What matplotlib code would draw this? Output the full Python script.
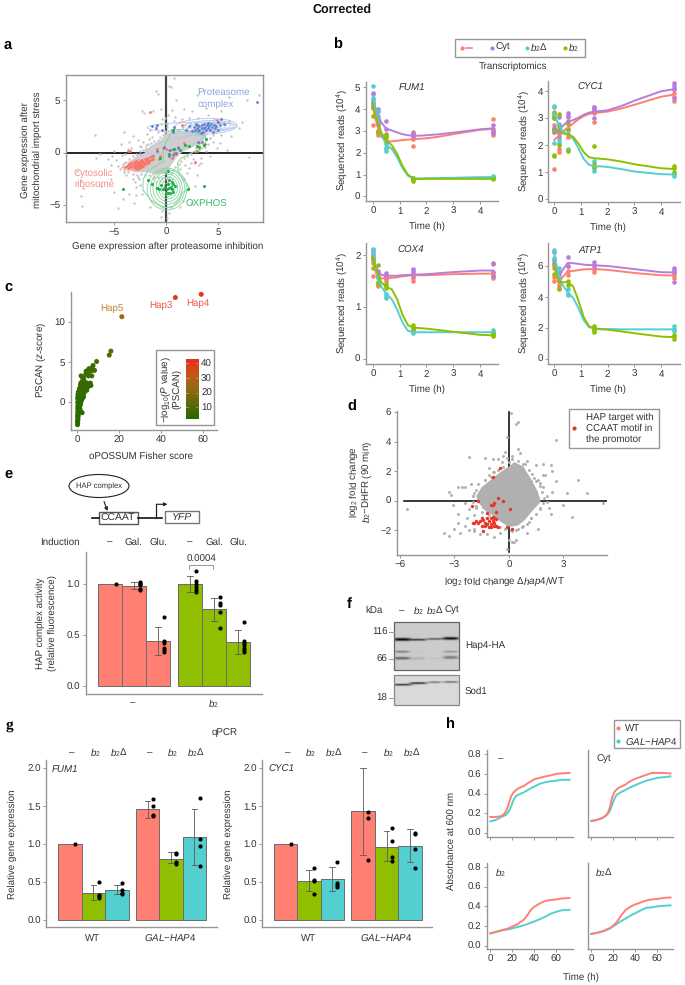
import numpy as np
import matplotlib
matplotlib.use('Agg')
import matplotlib.pyplot as plt
from matplotlib.patches import Ellipse, Rectangle
from matplotlib.colors import LinearSegmentedColormap

plt.rcParams['font.family'] = ['Liberation Sans', 'DejaVu Sans']
plt.rcParams['font.size'] = 7
plt.rcParams['text.hinting'] = 'no_hinting'
plt.rcParams['mathtext.fontset'] = 'custom'
plt.rcParams['mathtext.rm'] = 'Liberation Sans'
plt.rcParams['mathtext.it'] = 'Liberation Sans:italic'
plt.rcParams['mathtext.bf'] = 'Liberation Sans:bold'

W, H = 685, 985
RED, CYT, DEL, B2 = '#ff8073', '#b57edc', '#54cfd0', '#8fbf00'
AXC, TXT = '#969696', '#333333'
B2TXT = r'$\mathit{b_2}$'
B2D = r'$\mathit{b_2}\Delta$'

# panel a
a_grey_x = [.8, .3, -1, -.8, .5, 3, 7.7, 8.9, 6, 1, -.5, -2.1, -2.3, -1.2, .6, 1.7, 2.5, 3.8, 5.3, -.1, .2, -.4, .8, 1.5,
            2.2, 3.1, 4, 4.6, 6, 7.3, 7, 6.2, 5.3, 4.8, 4.5, 5.2, 5.8, 7.9, 4.2, 3.3, 3.2, 2.2, 2.8, 1.8, -4, -3.2, -6.8,
            -2.7, -3.5, -2.2, -1.8, -1, -1.5, -.5, -4.3, -3.6, -5, -5.2, -6.3, -6.7, -4.2, -4.8, -5.5, -5.3, -4.6, -4,
            -4.4, -3.8, -3.2, -2.7, -8.5, -8.1, -8.1, -7.9, -8, -6.2, -5.3, -5, -4.1, -4.6, -3.5, -3.1, -2.9, -2.5, -2.3,
            -2.9, -1.5, -.4, -.5, .3, .1, .5, 1.3, 1.6, 2.4, 2.8, 3, 1.7, 2, 1.3, 3.8, 3.5, -2.4, -2, -1.3, -.8, 2.6, 3.3,
            -3.9, -3.3, 4.2, 4.9, 5.6, -2.6, -3, -1.1, 1.3, .9, .1, .1, -.1, .1, -.1, .1, 2.4, 1.9, 2.9,
            -3.5, -3.2, -2.8, -2.5, -2.2, -1.9, -1.7, -1.4, -1.1, -.8, -.6, -.3, -.1, .2, .5, .8, 1.2, 1.6, 2, 2.4, 2.8,
            4.2, 4, 3.7, 3.2, 2.8, 2.4, 2, 1.7, 1.4, 1.2, .9, .7, .5, .3, 0, -.4, -.8, -1.2, -1.6, -2, -2.4, -2.8, -3.2,
            -3.6, -4, -4.2, -4.1, -3.9, -.6, -1, .6, 4.5, 4.7, -2.9, -2.5, -1.6, -1.9, 1.8, 2.3]
a_grey_y = [7.1, 6.4, 5.9, 5.6, 6.3, 5.5, 5, 5.5, 5.3, 5, 4.2, 3.8, 4, 4, 4.1, 4.2, 4, 4.3, 4, 3.3, 3.6, 3.2, 3, 3.2,
            3.3, 3.3, 3.6, 3.2, 3, 2.9, 2.3, 1.6, 1.7, 2, 1, .9, .2, -.4, -.3, -.5, -1.2, -1.5, -1, -1.2, 2, 1.6, 1.7,
            1.2, 1, 1, 1.8, 2.5, 2.2, 2.7, .8, .3, .1, -.3, -.1, -.5, -.2, -.7, -.6, -1.2, -1.3, -1.9, -1.6, -2.2, -2.5,
            -2.3, -1.8, -2.6, -4.2, -3.4, -5.1, -3.2, -2.5, -3.8, -4.5, -5.3, -4, -4.8, -3.3, -3.1, -4, -4.1, -5.2, -5.6,
            -6.2, -5.8, -6.3, -5.2, -5.2, -4.6, -4.8, -3.2, -2.2, -2.5, -2, -1.6, .1, .8, .5, .2, 1.5, 2, -.6, -1,
            -.1, .4, 1.4, .4, 2.7, -2.5, -2.8, -2.3, 2.9, 3.4, 2.7, 2.4, 2.1, -1.7, -1.9, -1.4, -1, 1.6, .4,
            -.6, -.3, -.2, .1, .2, .4, .8, .9, 1.1, 1.2, 1.5, 1.7, 2, 2.1, 2.2, 2.3, 2.2, 2.4, 2.3, 2.5, 2.6,
            1.4, .8, .5, .2, .1, -.1, -.3, -.5, -.8, -1.1, -1.4, -1.7, -2, -2.3, -2.4, -2.4, -2.3, -2.4, -2.2, -2.2, -2.1, -2.2, -2.1,
            -1.9, -1.7, -1.4, -1.1, -.9, -2.7, -2.8, -2.5, 1.7, 2.6, -.1, .6, 1.3, .7, 2.6, 2.8]
a_core_x = [-3.8, -3, -2, -1.5, -.5, 0, 1, 2, 3.3, 4, 3.5, 2.5, 1.5, 1, .5, 0, -1, -1.8, -3, -3.8]
a_core_y = [-1.2, -.5, 0, .6, 1.2, 1.8, 2, 2, 2.4, 1.8, 1, .5, 0, -.5, -1.2, -2, -2.1, -1.9, -1.9, -1.5]
a_red_x = [-3.9, -3.7, -3.6, -3.5, -3.4, -3.3, -3.3, -3.2, -3.1, -3.1, -3, -3, -2.9, -2.9, -2.8, -2.8, -2.7, -2.7, -2.6,
           -2.6, -2.5, -2.5, -2.4, -2.4, -2.3, -2.3, -2.2, -2.2, -2.1, -2, -2, -1.9, -1.8, -1.8, -1.7, -1.6, -1.5, -1.4,
           -1.3, -1.2, -1.5, 1.1, 1.5, -3.6, -3.4, -.9, -.3, 0, .3, .8, 1, 1.7, 3.2, 3.7, 3, 4.9, 2.8, .6, -.6, -.7, -1.2]
a_red_y = [-1.4, -1.3, -1.5, -1.1, -1.3, -1, -1.4, -1.2, -.9, -1.4, -1.1, -1.5, -.8, -1.3, -1.1, -1.6, -.9, -1.3, -1.1,
           -1.5, -.8, -1.2, -1, -1.4, -.7, -1.2, -.9, -1.3, -1, -.6, -1.1, -.8, -.5, -1, -.7, -.9, -.4, -.7, -.3, -.6,
           3.9, .5, 2.6, .1, .1, .3, .4, .3, .2, 0, -.1, .9, .9, .8, .1, 3.1, -.9, -.5, -.3, -.6, -.3]
a_blue_x = [1.9, 2.2, 2.5, 2.7, 2.8, 3, 3, 3.2, 3.2, 3.4, 3.4, 3.5, 3.6, 3.6, 3.7, 3.8, 3.9, 4, 4, 4.1, 4.2, 4.3, 4.4, 4.5,
            4.6, 4.7, 4.8, 5, 5, 5.2, 5.3, 5.5, 3.1, 2.9, 3.3, -1.3, -1, -.9, -.4, .8, .7, 1.1, .7, .4, -.2, -.9, -2.5,
            3.1, 3.4, 8.7, 1, .7, .3]
a_blue_y = [2.2, 2.5, 2.1, 2.4, 2.2, 2.6, 2.3, 2.2, 2.5, 2.3, 2.6, 2, 2.3, 2.7, 2.4, 2.2, 2.6, 2.8, 2.3, 2.5, 2.2, 2.7,
            2.4, 2, 2.6, 2.3, 2.5, 2.2, 2.9, 2.6, 3.2, 2.7, 2.1, 2.7, 1.9, 2.5, 2.3, 2.6, 2.2, 2.4, 2, .4, .3, .2, .5,
            .1, 0, 1, 1, 4.8, 0, -.2, -.3]
a_green_x = [-4.1, 3.6, 2.1, .2, .6, .3, .2, .3, .5, .6, -.1, -.3, -.5, -.7, -.9, -1.3, -1.7, 0, .1, .9, .7, .7, .4, .2,
             1.3, .8, 1.8, 2.2, 3, 3.2, 3.6, 3.8, -.6, .3, .7]
a_green_y = [-3.5, -3.2, -3.5, -1.8, -2.8, -2.6, -3, -3.4, -3.3, -3.5, -3.3, -3.5, -3.1, -3.5, -3.4, -3, -2.6, -3.9, -3.5,
             -3.2, -3, -3.8, -3.9, -3.9, .2, .3, .7, .6, .6, .5, .7, 1.3, -.5, -.1, 2.2]
a_ox_outer_x = [.6, .3, 0, -.3, -.2, -.8, -1.7, -2.2, -2.2, -1.4, -.3, .6, 1.3, 1.6, 2.3, 1.8, 1.2, 1.1, 1.5, 2.5, 3.5,
                3.9, 3.7, 2.5, 1.5, .6]
a_ox_outer_y = [2.2, 1.5, 1, 0, -.8, -1.2, -1.7, -2.6, -3.6, -4.6, -5.3, -5.2, -4.5, -3.8, -3.5, -2.7, -2, -1, -.5, 0,
                .4, 1.2, 1.6, 2, 2.2, 2.2]
# contour ellipses: centre x, centre y, full width, full height, angle
a_blue_cont = [(2.5, 2.45, 8.6, .9, 1), (3.8, 2.5, 6, 1.5, 2), (4, 2.5, 5, 1.1, 2), (4.2, 2.5, 4, .85, 2),
               (4.3, 2.5, 3, .6, 2), (4.3, 2.5, 2, .4, 2), (.8, .75, 5.6, 1.1, 15)]
a_red_cont = [(-2.8, -1.2, 2.6, 1, 10), (-2.7, -1.2, 2, .7, 10), (-2.7, -1.2, 1.4, .45, 10)]
a_green_cont = [(.2, -3.4, .8, 1, 0), (.2, -3.4, 1.3, 1.6, 0), (.2, -3.4, 1.8, 2.1, 0), (.2, -3.4, 2.3, 2.6, 0),
                (.15, -3.4, 2.8, 3.1, 0), (.15, -3.45, 3.3, 3.6, 0), (.1, -3.5, 3.8, 4, 0)]

# panel b
b_t = [0, .08, .17, .3, .5, .7, .9, 1.1, 1.3, 1.5, 1.75, 2, 2.5, 3, 4, 4.5]
fum1_lines = [[4.1, 3.6, 3.2, 2.75, 2.5, 2.52, 2.55, 2.58, 2.6, 2.62, 2.64, 2.66, 2.74, 2.85, 3.05, 3.1],
              [4.4, 4.1, 3.8, 3.4, 3.1, 3.02, 2.93, 2.85, 2.8, 2.78, 2.78, 2.8, 2.85, 2.92, 3.07, 3.12],
              [4.6, 4.1, 3.6, 2.9, 2.35, 2.18, 1.8, 1.3, .95, .83, .82, .83, .84, .85, .88, .88],
              [4.15, 3.8, 3.4, 2.95, 2.55, 2.35, 1.95, 1.4, 1, .8, .79, .8, .8, .8, .8, .8]]
cyc1_lines = [[2.2, 2.27, 2.35, 2.5, 2.65, 2.8, 2.96, 3.08, 3.16, 3.2, 3.22, 3.25, 3.36, 3.5, 3.8, 3.88],
              [2.6, 2.55, 2.55, 2.7, 2.88, 2.93, 3.02, 3.13, 3.21, 3.25, 3.27, 3.3, 3.45, 3.65, 4, 4.08],
              [3.2, 2.95, 2.75, 2.55, 2.4, 2.25, 1.9, 1.5, 1.28, 1.22, 1.22, 1.2, 1.12, 1.03, .93, .92],
              [2.55, 2.53, 2.5, 2.45, 2.4, 2.32, 2.07, 1.75, 1.56, 1.52, 1.5, 1.48, 1.4, 1.3, 1.15, 1.12]]
cox4_lines = [[1.9, 1.7, 1.58, 1.55, 1.55, 1.56, 1.57, 1.59, 1.6, 1.61, 1.61, 1.61, 1.62, 1.63, 1.64, 1.64],
              [2, 1.82, 1.7, 1.62, 1.6, 1.6, 1.6, 1.61, 1.615, 1.62, 1.625, 1.63, 1.65, 1.67, 1.7, 1.7],
              [2.1, 1.8, 1.6, 1.4, 1.25, 1.15, .95, .7, .54, .51, .51, .51, .51, .51, .51, .51],
              [1.95, 1.78, 1.65, 1.48, 1.38, 1.34, 1.15, .85, .65, .6, .59, .58, .55, .52, .46, .45]]
atp1_lines = [[6.1, 5.4, 4.9, 5.25, 5.65, 5.68, 5.73, 5.78, 5.8, 5.8, 5.78, 5.75, 5.65, 5.55, 5.4, 5.38],
              [6.3, 5.7, 5.3, 5.7, 6.2, 6.18, 6.14, 6.09, 6.06, 6.05, 6.02, 6, 5.9, 5.8, 5.6, 5.58],
              [6.9, 6.1, 5.4, 4.8, 4.3, 3.95, 3.3, 2.5, 2.05, 1.95, 1.93, 1.92, 1.9, 1.9, 1.9, 1.9],
              [6.1, 5.5, 5, 4.95, 4.95, 4.7, 3.8, 2.7, 2.1, 1.95, 1.9, 1.88, 1.77, 1.65, 1.43, 1.4]]
pts_t = [0, .17, .5, 1.5, 4.5]
fum1_pts = [[[3.25, 4.05, 4.1], [2.8, 3, 3.3], [2.6, 2.2, 2.85], [2.3, 2.65, 2.8, 2.95], [2.8, 2.95, 3.1, 3.55]],
            [[4.4, 4.7, 4.75], [3.3, 3.9, 4], [3.45, 3.1], [2.7, 2.8, 2.9], [2.9, 3.05, 3.25]],
            [[5.05, 4.5, 4.3, 4.2], [3.9, 3.7, 3.5], [2.1, 2.2, 2.4], [.8, .85, .82], [.85, .9, .95]],
            [[3.7, 4.1, 4.3], [2.9, 3, 3.3], [2.7, 2.5, 2.8], [.7, .8, .85], [.78, .82, .85]]]
cyc1_pts = [[[1.13, 2.5, 2.75, 3.25, 3.1], [1.75, 1.85, 2.4], [2.3, 2.4, 3.05], [2.85, 3.2, 3.3, 3.4], [3.65, 3.8, 3.95, 4.1]],
            [[2.5, 2.6, 2.65], [2.3, 2.5, 3.05], [2.9, 3.1, 3.2], [3, 3.25, 3.35, 3.42], [3.75, 4.1, 4.2, 4.3]],
            [[2.1, 3, 3.1, 3.4, 3.45], [2.1, 2.2, 2.6, 2.8], [1.82, 1.85, 2.55], [1.05, 1.15, 1.4], [.88, .92]],
            [[1.6, 1.65, 2.55, 3, 3.2], [2, 2.7, 3.15], [1.8, 2.6, 2.8], [1.2, 1.3, 1.98], [1, 1.15, 1.25]]]
cox4_pts = [[[1.6, 1.85, 2], [1.4, 1.45, 1.6], [1.5, 1.55, 1.6], [1.5, 1.55, 1.65], [1.55, 1.6, 1.65, 1.83]],
            [[1.95, 2.05], [1.65, 1.7], [1.55, 1.62, 1.66], [1.6, 1.7, 1.73], [1.6, 1.68, 1.85]],
            [[2, 2.1, 2.12], [1.55, 1.6], [1.17, 1.2, 1.25], [.5, .52, .55], [.48, .52, .55]],
            [[1.75, 1.9, 1.95], [1.45, 1.48, 1.8], [1.36, 1.4, 1.44], [.55, .6, .65], [.43, .46, .49]]]
atp1_pts = [[[5, 5.3, 5.9], [4.5, 4.8, 5], [5.4, 5.7, 6], [5.6, 5.8, 5.9], [5.2, 5.4, 5.6]],
            [[6.2, 6.4, 6.9], [5.2, 5.6], [6, 6.6], [5.9, 6.05, 6.25], [4.95, 5.6, 5.9, 5.75]],
            [[6.5, 7.05], [5.4, 5.9], [4.1, 4.2, 4.5], [1.85, 1.95, 2.05], [1.8, 2.1, 1.9]],
            [[5.5, 6.05], [4.6, 5], [4.8, 5.05], [1.7, 1.9, 2.1], [1.3, 1.45, 1.55]]]

# panel c
c_x = [.1, .2, .1, .3, .2, .4, .1, .5, .2, .6, 2.3, 1.5, .3, .8, 1.2, .2, .7, 1.1, .3, 1.5, .5, .9, .2, 1.3, 1.8, .5, .8, 1.2,
       2, .3, .7, 1.5, 2.5, .2, .9, 1.8, 3, .5, 1.2, 2.2, .3, 1.6, 2.8, .9, 3.3, .5, 1.9, 2.5, 1.3, 3.5, 4.5, 1, 2, 3, 4, 5,
       1.5, 2.5, 6.5, 1.5, 3, 5.5, 6.2, 1.7, 3.8, 4.7, 2.3, 3.2, 1.8, 2.5, 3, 5.3, 6.9, 4, 5.2, 6.2, 4.2, 7.3, 8.2, 5.5, 7,
       7.5, 9.2, 15.2, 16, 21.2, 46.7, 59]
c_y = [-2.8, -2.6, -2.4, -2.2, -2, -1.8, -1.7, -1.5, -1.3, -1.2, -1.3, -1.1, -1, -.9, -.8, -.7, -.6, -.5, -.4, -.3, -.2, -.1, 0,
       0, .1, .1, .2, .3, .3, .4, .4, .5, .5, .6, .6, .7, .7, .8, .9, .9, 1, 1.1, 1.1, 1.2, 1.2, 1.3, 1.4, 1.4, 1.5, 1.5, 1.5,
       1.7, 1.7, 1.7, 1.8, 1.9, 1.9, 2, 2.1, 2.2, 2.2, 2.3, 2.4, 2.4, 2.4, 2.4, 2.6, 2.7, 3.3, 3.1, 3, 3.3, 3.3, 3.5, 3.7, 3.9,
       3.9, 4, 4, 4.2, 4.3, 4.6, 5.1, 5.9, 6.4, 10.7, 13.1, 13.5]
c_p = [3] * 38 + [5] * 30 + [7] * 15 + [11, 12, 25, 41, 41]

# panel d
d_grey_x = [.1, .5, .4, -.1, 2.6, -2.2, -1.3, -.9, -.6, -.4, -.3, -.2, .2, .5, .6, .8, 1, 1.5, 1.9, 2.3, 2.4, 2, 2.6, 3.8,
            3.2, 2.4, 1.9, 1.7, 2.1, 4.3, 5.2, 3, 2.2, 1.7, 2.3, 3.5, 1.2, 1, 1.6, .5, .2, 0, -.5, -.8, -1.2, -1.6, -1.9,
            -2.2, -2.7, -2.8, -3, -3.3, -3.6, -5.6, -2.4, -2.1, -2.6, -2, -2.4, -2.8, -2.2, -1.8, -1.9, -2.3, -2.8, -3.1,
            -3.2, -3.3, -1.1, -.9, -.8, -2.4, -1.9, .3, -.1, .2, .4, 1.1, 1.3, 1.2, 1.6, -1, -1.3,
            .5, .9, 1.1, 1.3, 1.5, 1.7, 1.8, 1.95, 1.9, 1.7, 1.5, 1.2, 1, .7, .4, .1, -.2, -.5, -1.1, -1.5, -1.8, -2, -2,
            -1.8, -1.7, -1.3, -1.1, -.8, -.6, -.3, 0, .2, -.1, .6, 1.4, 1.9, 2.1, 1.1, .8, 1.6, -1.6, -1.9, -1.45]
d_grey_y = [5.9, 5.3, 5.2, 4.3, 4.1, 2.95, 2.9, 2.8, 2.8, 2.6, 3.0, 3.3, 3.0, 3.5, 3.2, 2.5, 2.7, 2.4, 2.5, 2.4, 2, 1.7, 1.3,
            1.4, .5, .6, 1.7, 1.2, .3, .5, -.2, -.3, -.5, -.6, -.9, -1.1, -1.2, -2.2, -1.9, -1.9, -2.1, -2.7, -2.2, -2.5,
            -2.3, -2.3, -2.1, -2, -2.2, -1.5, -1.9, -2.4, -2.2, -.6, .9, 1.1, .9, .3, -.2, .9, -.6, -.4, -1, -1.2, -.9, -.3,
            .4, .6, 2.2, 1.9, 1.5, -1.7, -1.9, -2.8, -3.3, -2.8, -2.7, -.6, -.2, 1.3, 1.4, 1.6, 1.4,
            2.7, 2.5, 2.1, 1.8, 1.3, 1, .6, .2, -.2, -.5, -.9, -1.2, -1.6, -1.8, -2, -2, -1.9, -1.8, -1, -.8, -.5, -.1, .3,
            .7, 1.1, 1.4, 1.7, 1.9, 2.1, 2.3, 2.6, 2.8, 2.9, 2.3, 1.5, .9, -.1, -1.45, -1.7, .2, .5, .5, -.45]
d_core_x = [.3, .8, 1.2, 1.6, 1.75, 1.3, .9, .5, 0, -.5, -.9, -1.3, -1.7, -1.8, -1.5, -1, -.5, 0]
d_core_y = [2.6, 2.3, 1.5, .6, -.1, -.7, -1.3, -1.7, -1.8, -1.4, -1, -.7, -.1, .3, .9, 1.4, 1.9, 2.3]
d_red_x = [-.5, -.9, -1.7, -2.05, -.8, -.6, -.9, -1, -.3, .05, -1.2, -.7, -1.5, -1.4, -1.4, -1.3, -1.2, -1.2, -1.1, -1, -1, -.9,
           -.9, -.8, -.8, -.7, -.7, -1.6, -1.7, -1.8, -1.9, -2, -1.5, -1.3, -1.1, -1, -.8, -.7, -.6, -.1, .2]
d_red_y = [2.2, 1.6, 0, -.4, -.2, .2, -.3, -.3, -.05, -.6, -.85, -.8, -1.75, -2.1, -1.3, -1.5, -1.2, -1.6, -1.4, -1.2, -1.6, -1.1,
           -1.4, -1.2, -1.5, -1.25, -1.7, -1.4, -1.5, -1.4, -1.5, -1.55, -1.2, -1.7, -1.8, -1.8, -1.75, -1.7, -1.8, -1.8, -1.9]

# panel e
e_vals = [1, .98, .445, 1, .76, .435]
e_lo = [1, .95, .31, .92, .645, .315]
e_hi = [1, 1.02, .58, 1.085, .87, .55]
e_pts = [[1], [.94, .95, .99, 1, 1.01, 1.02], [.34, .36, .38, .42, .44, .68], [.92, .94, .97, 1, 1.03, 1.13],
         [.575, .73, .8, .82, .88], [.34, .36, .38, .4, .42, .44, .635]]

# panel f
f_lanes = [402.3, 418.7, 435, 451]
f_bands = [(0, 639.3, 1, 15, 1.5), (1, 639.6, .75, 14, 1), (2, 638.8, .6, 13, .9), (3, 638.3, .95, 14, 1.4),
           (0, 651.7, .4, 13, 1), (3, 651.7, .28, 12, 1), (1, 652, .04, 10, 1), (0, 658.3, .55, 14, 1.3), (1, 658.5, .14, 12, 1.2),
           (2, 658.5, .06, 10, 1), (3, 657.5, .42, 13, 1.5)]
f_bands2 = [(0, 685, .8, 17, .9), (1, 683.4, .85, 15, .9), (2, 682.5, .5, 11, .8), (3, 682.3, .55, 13, .8)]

# panel g
g_vals1 = [1, .36, .39, 1.46, .81, 1.09]
g_lo1 = [1, .27, .34, 1.35, .75, .72]
g_hi1 = [1, .46, .46, 1.57, .89, 1.47]
g_pts1 = [[1], [.29, .31, .33, .5], [.34, .36, .39, .49], [1.37, 1.38, 1.5, 1.6], [.74, .76, .87, .88], [.71, .97, 1.07, 1.61]]
g_vals2 = [1, .52, .535, 1.435, .965, .98]
g_lo2 = [1, .38, .38, .86, .775, .76]
g_hi2 = [1, .66, .7, 2, 1.17, 1.2]
g_pts2 = [[1], [.34, .51, .53, .68], [.43, .46, .49, .77], [.79, 1.34, 1.43], [.78, .83, 1.04, 1.21], [.69, .94, 1.13, 1.15]]

# panel h
h_t = [0, 5, 10, 13, 15, 17, 19, 21, 23, 25, 28, 31, 34, 37, 40, 45, 50, 55, 60, 65, 72]
h_wt = [[.16, .16, .17, .195, .235, .3, .375, .41, .43, .45, .465, .48, .505, .525, .545, .56, .575, .585, .6, .605, .61],
        [.12, .13, .15, .175, .2, .26, .36, .415, .44, .46, .475, .49, .515, .535, .55, .57, .59, .61, .61, .61, .605],
        [.125, .14, .155, .165, .17, .18, .19, .2, .21, .22, .245, .27, .315, .365, .395, .43, .455, .465, .47, .48, .485],
        [.12, .13, .145, .16, .17, .18, .195, .215, .24, .27, .32, .36, .385, .405, .42, .44, .46, .47, .475, .485, .49]]
h_gal = [[.115, .13, .16, .175, .19, .22, .27, .33, .37, .385, .4, .415, .435, .455, .47, .5, .515, .525, .53, .54, .54],
         [.12, .13, .15, .17, .19, .225, .285, .345, .385, .4, .42, .435, .455, .47, .485, .51, .53, .545, .56, .565, .575],
         [.125, .14, .155, .16, .165, .168, .172, .18, .185, .19, .2, .21, .22, .235, .245, .27, .295, .325, .345, .36, .365],
         [.12, .13, .145, .155, .165, .175, .19, .205, .22, .235, .255, .275, .295, .315, .33, .36, .385, .39, .4, .405, .41]]


fig = plt.figure(figsize=(W / 100, H / 100), dpi=100)


def add_ax(l, t, r, b):
    ax = fig.add_axes([l / W, 1 - b / H, (r - l) / W, (b - t) / H])
    ax.patch.set_alpha(0)
    return ax


def scale(px0, v0, px1, v1, edge0, edge1):
    # data value at two pixel edges, from two known tick positions
    s = (v1 - v0) / (px1 - px0)
    return v0 + (edge0 - px0) * s, v0 + (edge1 - px0) * s


def style(ax, full=False):
    for k in ['top', 'right']:
        ax.spines[k].set_visible(full)
    for s in ax.spines.values():
        s.set_color(AXC)
        s.set_linewidth(1.0)
    ax.tick_params(length=2.5, width=.7, color=AXC, labelcolor=TXT, labelsize=7, pad=1.5)


ov = fig.add_axes([0, 0, 1, 1], zorder=20)
ov.set_xlim(0, W)
ov.set_ylim(H, 0)
ov.axis('off')


def T(x, y, s, **kw):
    kw.setdefault('ha', 'center')
    kw.setdefault('va', 'center')
    kw.setdefault('color', TXT)
    kw.setdefault('fontsize', 7)
    ov.text(x, y, s, **kw)


def box(l, t, r, b, ec=AXC, lw=1.0, fc='none'):
    ov.add_patch(Rectangle((l, t), r - l, b - t, fc=fc, ec=ec, lw=lw))


T(342.5, 10, 'Corrected', fontsize=9, fontweight='bold', color='#111111')
for s, x, y in [('a', 8, 45), ('b', 338, 45), ('c', 8, 287), ('d', 352, 407), ('e', 8, 474), ('f', 349, 604), ('h', 450, 724)]:
    T(x, y, s, fontsize=10.5, fontweight='bold', color='black')
T(9, 726, 'g', fontsize=11, fontweight='bold', color='black', family='Liberation Serif')

# ---- a
ax = add_ax(66, 75, 263, 222)
style(ax, full=True)
ax.set_xlim(scale(113.7, -5, 218.3, 5, 66, 263))
ax.set_ylim(scale(204.7, -5, 100.3, 5, 222, 75))
ax.axhline(0, color='black', lw=1.2, zorder=1)
ax.axvline(0, color='#444444', lw=1.6, zorder=1)
ax.fill(a_core_x, a_core_y, color='#cfcfcf', lw=0, zorder=2)
ax.scatter(a_grey_x, a_grey_y, s=3, color='#c6c6c6', lw=0, zorder=2.5)
for conts, c in [(a_blue_cont, '#b4c6ea'), (a_red_cont, '#f5aaa2'), (a_green_cont, '#82d49c')]:
    for cx, cy, w, h, ang in conts:
        ax.add_patch(Ellipse((cx, cy), w, h, angle=ang, fc='none', ec=c, lw=.6, zorder=3))
ax.plot(a_ox_outer_x, a_ox_outer_y, color='#82d49c', lw=.7, zorder=3)
ax.scatter(a_red_x, a_red_y, s=4, color='#fa7468', lw=0, zorder=4)
ax.scatter(a_blue_x, a_blue_y, s=4, color='#5f80cf', lw=0, zorder=4)
ax.scatter(a_green_x, a_green_y, s=5, color='#23b14d', lw=0, zorder=4)
ax.set_xticks([-5, 0, 5])
ax.set_yticks([-5, 0, 5])
T(197.5, 92, 'Proteasome', ha='left', color='#8ba5dd')
T(197.5, 104, 'complex', ha='left', color='#8ba5dd')
T(74, 173, 'Cytosolic', ha='left', color='#fa8f85')
T(74, 184.5, 'ribosome', ha='left', color='#fa8f85')
T(185.5, 204, 'OXPHOS', ha='left', color='#39b86a')
T(167.5, 246.5, 'Gene expression after proteasome inhibition')
T(25.5, 150, 'Gene expression after', rotation=90)
T(37.5, 150, 'mitochondrial import stress', rotation=90)

# ---- b
panels = [('FUM1', fum1_lines, fum1_pts, (366, 81.7, 498, 201), (373, 480), (196.3, 0, 87.3, 5), [0, 1, 2, 3, 4, 5], (412, 87.5)),
          ('CYC1', cyc1_lines, cyc1_pts, (548.3, 81, 680, 202), (554.3, 661), (199.3, 0, 91.3, 4), [0, 1, 2, 3, 4], (590, 87.5)),
          ('COX4', cox4_lines, cox4_pts, (366, 243.3, 498, 364), (373, 480), (358.7, 0, 255, 2), [0, 1, 2], (411, 250.5)),
          ('ATP1', atp1_lines, atp1_pts, (548.3, 243, 680, 364), (554.3, 661), (358.7, 0, 266, 6), [0, 2, 4, 6], (590, 250.5))]
for name, lines, pts, (l, t, r, b), (x0, x4), (py0, v0, py1, v1), yt, (tx, ty) in panels:
    ax = add_ax(l, t, r, b)
    style(ax)
    ax.set_xlim(scale(x0, 0, x4, 4, l, r))
    ax.set_ylim(scale(py0, v0, py1, v1, b, t))
    for line, ser, c in zip(lines, pts, [RED, CYT, DEL, B2]):
        ax.plot(b_t, line, color=c, lw=1.4, solid_joinstyle='round', zorder=3)
        for tt, vals in zip(pts_t, ser):
            ax.scatter([tt] * len(vals), vals, s=11, color=c, lw=0, zorder=2)
    ax.set_xticks([0, 1, 2, 3, 4])
    ax.set_yticks(yt)
    T(tx, ty, name, style='italic')
    T((x0 + x4) / 2 + .5, b + 25.5, 'Time (h)')
    T(l - 30 + (6 if l < 400 else 5), (t + b) / 2 - 1, 'Sequenced reads (10$^4$)', rotation=90)
box(454.7, 39.3, 585, 57.3)
ov.scatter([462.5], [47.5], s=9, color=RED, lw=0)
ov.plot([466.5, 472], [47.5, 47.5], color=RED, lw=1.2)
ov.scatter([492], [47.5], s=9, color=CYT, lw=0)
T(496, 47.5, 'Cyt', ha='left')
ov.scatter([527], [47.5], s=9, color=DEL, lw=0)
T(530.5, 48, B2D, ha='left')
ov.scatter([565], [47.5], s=9, color=B2, lw=0)
T(568.5, 48, B2TXT, ha='left')
T(513.5, 66.8, 'Transcriptomics')

# ---- c
cmap = LinearSegmentedColormap.from_list('pscan', ['#246a00', '#5a6a08', '#8f6a10', '#c25a18', '#e5321e'])
ax = add_ax(71, 291.7, 216.7, 430.3)
style(ax)
ax.set_xlim(scale(77.3, 0, 203.3, 60, 71, 216.7))
ax.set_ylim(scale(402.3, 0, 322.3, 10, 430.3, 291.7))
ax.scatter(c_x, c_y, c=c_p, cmap=cmap, vmin=2, vmax=42, s=13, lw=0)
ax.set_xticks([0, 20, 40, 60])
ax.set_yticks([0, 5, 10])
T(112, 308.5, 'Hap5', color='#c9802f')
T(160.5, 306, 'Hap3', color='#f0564a')
T(198, 303, 'Hap4', color='#f0564a')
T(141, 456, 'oPOSSUM Fisher score')
T(41.5, 360, 'PSCAN ($\\mathit{z}$-score)', rotation=90)
box(156.3, 350.3, 214.3, 424.7)
cax = add_ax(186, 359.3, 198.3, 418.7)
cax.set_zorder(21)
low, high = scale(407.3, 10, 363.3, 40, 418.7, 359.3)
cax.imshow(np.linspace(high, low, 100)[:, None], cmap=cmap, vmin=2, vmax=42, aspect='auto', extent=(0, 1, low, high))
for s in cax.spines.values():
    s.set_visible(False)
cax.set_xticks([])
cax.yaxis.tick_right()
cax.set_yticks([10, 20, 30, 40])
cax.tick_params(axis='y', length=0, pad=2, labelsize=7, labelcolor=TXT)
for v in [10, 20, 30, 40]:
    cax.plot([0, .18], [v, v], color='white', lw=.4, alpha=.7)
    cax.plot([.82, 1], [v, v], color='white', lw=.4, alpha=.7)
T(166.5, 389, '$-$log$_{10}$($\\mathit{P}$ value)', rotation=90)
T(177, 389, '(PSCAN)', rotation=90)

# ---- d
ax = add_ax(396.7, 410.7, 607.3, 555)
style(ax)
ax.set_xlim(scale(400, -6, 563.3, 3, 396.7, 607.3))
ax.set_ylim(scale(530, -2, 412, 6, 555, 410.7))
ax.plot([-5.8, 5.4], [0, 0], color='black', lw=1.1, zorder=1)
ax.plot([0, 0], [-3.5, 6], color='black', lw=1.1, zorder=1)
ax.fill(d_core_x, d_core_y, color='#b0b0b0', lw=0, zorder=2)
ax.scatter(d_grey_x, d_grey_y, s=4.5, color='#b0b0b0', lw=0, zorder=2)
ax.scatter(d_red_x, d_red_y, s=6, color='#e8352a', lw=0, zorder=3)
ax.set_xticks([-6, -3, 0, 3])
ax.set_yticks([-2, 0, 2, 4, 6])
box(569.3, 409.3, 659, 448.3)
ov.scatter([574], [428], s=9, color='#e8352a', lw=0)
T(586.5, 417, 'HAP target with', ha='left')
T(586.5, 428.5, 'CCAAT motif in', ha='left')
T(586.5, 439.5, 'the promotor', ha='left')
T(504.5, 582, 'log$_2$ fold change $\\Delta\\mathit{hap4}$/WT')
T(354, 482, 'log$_2$ fold change', rotation=90)
T(367, 482, B2TXT + '$-$DHFR (90 min)', rotation=90)


def bars(ax, centres, vals, lo, hi, pts, cols, off):
    ax.bar(centres, vals, width=1, color=cols, edgecolor='#6b6b6b', linewidth=.7, zorder=2)
    for x, v, a, b, p in zip(centres, vals, lo, hi, pts):
        if b > a:
            ax.plot([x, x], [a, b], color='#5a5a5a', lw=.6, zorder=3)
            for y in (a, b):
                ax.plot([x - .12, x + .12], [y, y], color='#5a5a5a', lw=.6, zorder=3)
        ax.scatter([x + off] * len(p), p, s=9, color='black', lw=0, zorder=4)
    ax.set_xticks([])


# ---- e
ax = add_ax(85.7, 552.3, 261.7, 694)
style(ax)
ax.set_xlim((85.7 - 109.7) / 24, (261.7 - 109.7) / 24)
ax.set_ylim(scale(686.3, 0, 584.3, 1, 694, 552.3))
bars(ax, [0, 1, 2, 3.35, 4.35, 5.35], e_vals, e_lo, e_hi, e_pts, [RED] * 3 + [B2] * 3, .26)
ax.set_yticks([0, .5, 1])
ax.set_yticklabels(['0.0', '0.5', '1.0'])
ov.add_patch(Ellipse((99, 486), 60, 23, fc='white', ec='#222222', lw=.8))
T(99.5, 486.5, 'HAP complex', fontsize=5.5)
ov.annotate('', xy=(107.5, 511), xytext=(104, 501.5), arrowprops=dict(arrowstyle='-|>', color='#222222', lw=.8, mutation_scale=5, shrinkA=0, shrinkB=0))
ov.plot([91.7, 98.7], [517.7, 517.7], color='#111111', lw=1.2)
ov.plot([137.7, 162.3], [517.7, 517.7], color='#111111', lw=1.2)
ov.annotate('', xy=(167.5, 504.3), xytext=(156.3, 504.3), arrowprops=dict(arrowstyle='-|>', color='#222222', lw=.8, mutation_scale=5, shrinkA=0, shrinkB=0))
ov.plot([156.3, 156.3], [517.7, 504.3], color='#222222', lw=.9)
box(98.7, 511.7, 137.7, 524.3, ec='#555555')
box(165, 510.7, 198.7, 523.3, ec='#777777')
T(118, 518, 'CCAAT', fontsize=7.5)
T(182, 517.5, 'YFP', fontsize=7.5, style='italic')
T(60, 542, 'Induction')
for x, s in [(110, '–'), (133.5, 'Gal.'), (158, 'Glu.'), (190, '–'), (214, 'Gal.'), (238, 'Glu.')]:
    T(x, 542, s)
T(201.7, 559, '0.0004')
ov.plot([189.3, 189.3, 213.3, 213.3], [569.3, 565, 565, 569.3], color=AXC, lw=.7)
T(133, 703, '–')
T(213, 703.5, B2TXT)
T(40.5, 623, 'HAP complex activity', rotation=90)
T(52.5, 623, '(relative fluorescence)', rotation=90)

# ---- f
box(394, 621.7, 459.3, 670.3, ec='#666666', lw=.9)
box(394, 675.3, 459.3, 705.3, ec='#888888', lw=.9)
for (t, b, bands, bg) in [(621.7, 670.3, f_bands, .8), (675.3, 705.3, f_bands2, .85)]:
    gx = np.arange(394.5, 459.3, .5)
    gy = np.arange(t + .25, b, .5)
    img = np.full((len(gy), len(gx)), bg)
    X, Y = np.meshgrid(gx, gy)
    for lane, yc, amp, w, th in bands:
        prof = np.exp(-((X - f_lanes[lane]) / (w / 1.7)) ** 4) * np.exp(-((Y - yc) / th) ** 2)
        img -= amp * bg * prof
    ov.imshow(np.clip(img, 0, 1), cmap='gray', vmin=0, vmax=1, extent=(394.3, 459, b - .3, t + .3), aspect='auto', zorder=0.5, interpolation='bilinear')
ov.set_xlim(0, W)
ov.set_ylim(H, 0)
T(374, 610.5, 'kDa')
T(402, 610.5, '–')
T(418, 611, B2TXT)
T(434.5, 611, B2D)
T(451.5, 610.5, 'Cyt')
for y, s in [(632.3, '116'), (659, '66'), (698.3, '18')]:
    T(387.5, y, s, ha='right')
    ov.plot([389, 394], [y, y], color=AXC, lw=.7)
T(465, 645.5, 'Hap4-HA', ha='left')
T(464.5, 691.5, 'Sod1', ha='left')

# ---- g
cols = [RED, B2, DEL, RED, B2, DEL]
for l, r, c0, v, lo, hi, p, nm in [(46.3, 216.7, 70, g_vals1, g_lo1, g_hi1, g_pts1, 'FUM1'),
                                   (262.3, 432.3, 285.5, g_vals2, g_lo2, g_hi2, g_pts2, 'CYC1')]:
    ax = add_ax(l, 760, r, 927.3)
    style(ax)
    ax.set_xlim((l - c0) / 23.4, (r - c0) / 23.4)
    ax.set_ylim(scale(920, 0, 768.3, 2, 927.3, 760))
    bars(ax, [0, 1, 2, 3.32, 4.32, 5.32], v, lo, hi, p, cols, .22)
    ax.set_yticks([0, .5, 1, 1.5, 2])
    ax.set_yticklabels(['0.0', '0.5', '1.0', '1.5', '2.0'])
    T(l + 19, 769, nm, style='italic', ha='center')
    for x, s in zip([c0, c0 + 23.4, c0 + 46.8, c0 + 77.5, c0 + 100.9, c0 + 124.3], ['–', B2TXT, B2D, '–', B2TXT, B2D]):
        T(x + 2, 752.5, s)
    T(c0 + 23, 938, 'WT')
    T(c0 + 100.5, 938, '$\\mathit{GAL}$$-$$\\mathit{HAP4}$')
    T(l - 33.5, 844, 'Relative gene expression', rotation=90)
T(225, 733, 'qPCR')

# ---- h
h_rects = [(486.7, 750, 572.7, 836.7, 490.3, 556.3, 832.7, 754.3, '–', 500.5, 759),
           (587.7, 750, 673.3, 836.7, 591.3, 657.3, 832.7, 754.3, 'Cyt', 603.5, 759.5),
           (486.7, 863.3, 572.7, 949.3, 490.3, 556.3, 945.7, 867, B2TXT, 500.5, 873),
           (587.7, 863.3, 673.3, 949.3, 591.3, 657.3, 945.7, 867, B2D, 603.5, 873)]
for i, (l, t, r, b, x0, x60, y0, y8, lab, tx, ty) in enumerate(h_rects):
    ax = add_ax(l, t, r, b)
    style(ax)
    ax.set_xlim(scale(x0, 0, x60, 60, l, r))
    ax.set_ylim(scale(y0, 0, y8, .8, b, t))
    ax.plot(h_t, h_gal[i], color=DEL, lw=1.4)
    ax.plot(h_t, h_wt[i], color=RED, lw=1.4)
    ax.set_yticks([0, .2, .4, .6, .8])
    ax.set_yticklabels(['0.0', '0.2', '0.4', '0.6', '0.8'] if i % 2 == 0 else [])
    ax.set_xticks([0, 20, 40, 60])
    if i < 2:
        ax.set_xticklabels([])
    if i % 2:
        ax.tick_params(axis='y', length=0)
    T(tx, ty, lab)
T(580.5, 977, 'Time (h)')
T(451, 841, 'Absorbance at 600 nm', rotation=90)
box(613.7, 720, 679.7, 748.3)
ov.scatter([618.5], [727.5], s=9, color=RED, lw=0)
ov.scatter([618.5], [741], s=9, color=DEL, lw=0)
T(624.5, 728, 'WT', ha='left')
T(625, 742, '$\\mathit{GAL}$$-$$\\mathit{HAP4}$', ha='left')

fig.savefig('out.png', dpi=100)
